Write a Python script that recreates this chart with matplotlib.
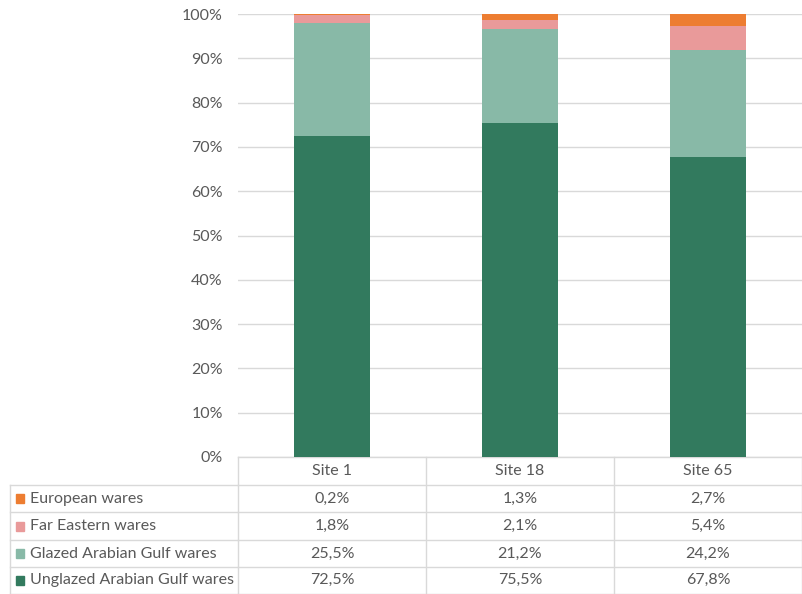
import matplotlib.pyplot as plt
import matplotlib.transforms as mtransforms
import numpy as np

# Data
sites = ['Site 1', 'Site 18', 'Site 65']
series = ['European wares', 'Far Eastern wares', 'Glazed Arabian Gulf wares', 'Unglazed Arabian Gulf wares']
european = [0.2, 1.3, 2.7]
far_eastern = [1.8, 2.1, 5.4]
glazed = [25.5, 21.2, 24.2]
unglazed = [72.5, 75.5, 67.8]
colors = ['#ED7D31', '#E99A9A', '#88B9A7', '#327A5E']

plt.rcParams['font.family'] = ['Lato', 'DejaVu Sans']
txt_color = '#595959'
grid_color = '#D9D9D9'
fs = 11.5

W, H = 802, 594
fig = plt.figure(figsize=(W / 100, H / 100), dpi=100)
# plot area in pixel coords
x0, x1, ytop, ybot = 238, 802, 14, 457
ax = fig.add_axes([x0 / W, 1 - ybot / H, (x1 - x0) / W, (ybot - ytop) / H])

# 100% stacked -> normalise each column
vals = np.array([unglazed, glazed, far_eastern, european], dtype=float)
pct = vals / vals.sum(axis=0) * 100
x = np.arange(len(sites))
bottom = np.zeros(len(sites))
for row, c in zip(pct, colors[::-1]):
    ax.bar(x, row, bottom=bottom, width=0.405, color=c, zorder=3)
    bottom += row

ax.set_xlim(-0.5, len(sites) - 0.5)
ax.set_ylim(0, 100)
ax.set_yticks(np.arange(0, 101, 10))
ax.set_yticklabels([f'{v}%' for v in range(0, 101, 10)])
ax.tick_params(axis='y', length=0, pad=11, labelsize=fs, labelcolor=txt_color)
ax.set_xticks([])
ax.grid(axis='y', color=grid_color, linewidth=1, zorder=0)
for s in ax.spines.values():
    s.set_visible(False)

# data table below the axes: x in data units, y in figure pixels (top-down)
trans = mtransforms.blended_transform_factory(ax.transData, fig.transFigure)
def fy(py):
    return 1 - py / H

row_edges = [457, 485, 512, 540, 567, 593.5]
col_edges = np.arange(len(sites) + 1) - 0.5
lw = 1
# horizontal lines in the data columns
for py in row_edges:
    ax.plot([col_edges[0], col_edges[-1]], [fy(py)] * 2, transform=trans,
            color=grid_color, lw=lw, clip_on=False)
# vertical lines in the data columns
for cx in col_edges:
    ax.plot([cx, cx], [fy(row_edges[0]), fy(row_edges[-1])], transform=trans,
            color=grid_color, lw=lw, clip_on=False)
# label column box
lx0 = 10 / W
for py in row_edges[1:]:
    fig.add_artist(plt.Line2D([lx0, x0 / W], [fy(py)] * 2, color=grid_color, lw=lw))
fig.add_artist(plt.Line2D([lx0, lx0], [fy(row_edges[1]), fy(row_edges[-1])], color=grid_color, lw=lw))

# header
for i, s in enumerate(sites):
    ax.text(i, fy((row_edges[0] + row_edges[1]) / 2), s, transform=trans,
            ha='center', va='center', fontsize=fs, color=txt_color)
# rows
table_vals = [european, far_eastern, glazed, unglazed]
for r, (name, c, v) in enumerate(zip(series, colors, table_vals)):
    yc = fy((row_edges[r + 1] + row_edges[r + 2]) / 2)
    fig.add_artist(plt.Rectangle((16 / W, yc - 4.5 / H), 8 / W, 9 / H, color=c))
    fig.text(30 / W, yc, name, ha='left', va='center', fontsize=fs, color=txt_color)
    for i, val in enumerate(v):
        ax.text(i, yc, f'{val:.1f}%'.replace('.', ','), transform=trans,
                ha='center', va='center', fontsize=fs, color=txt_color)

fig.savefig('out.png', dpi=100)
